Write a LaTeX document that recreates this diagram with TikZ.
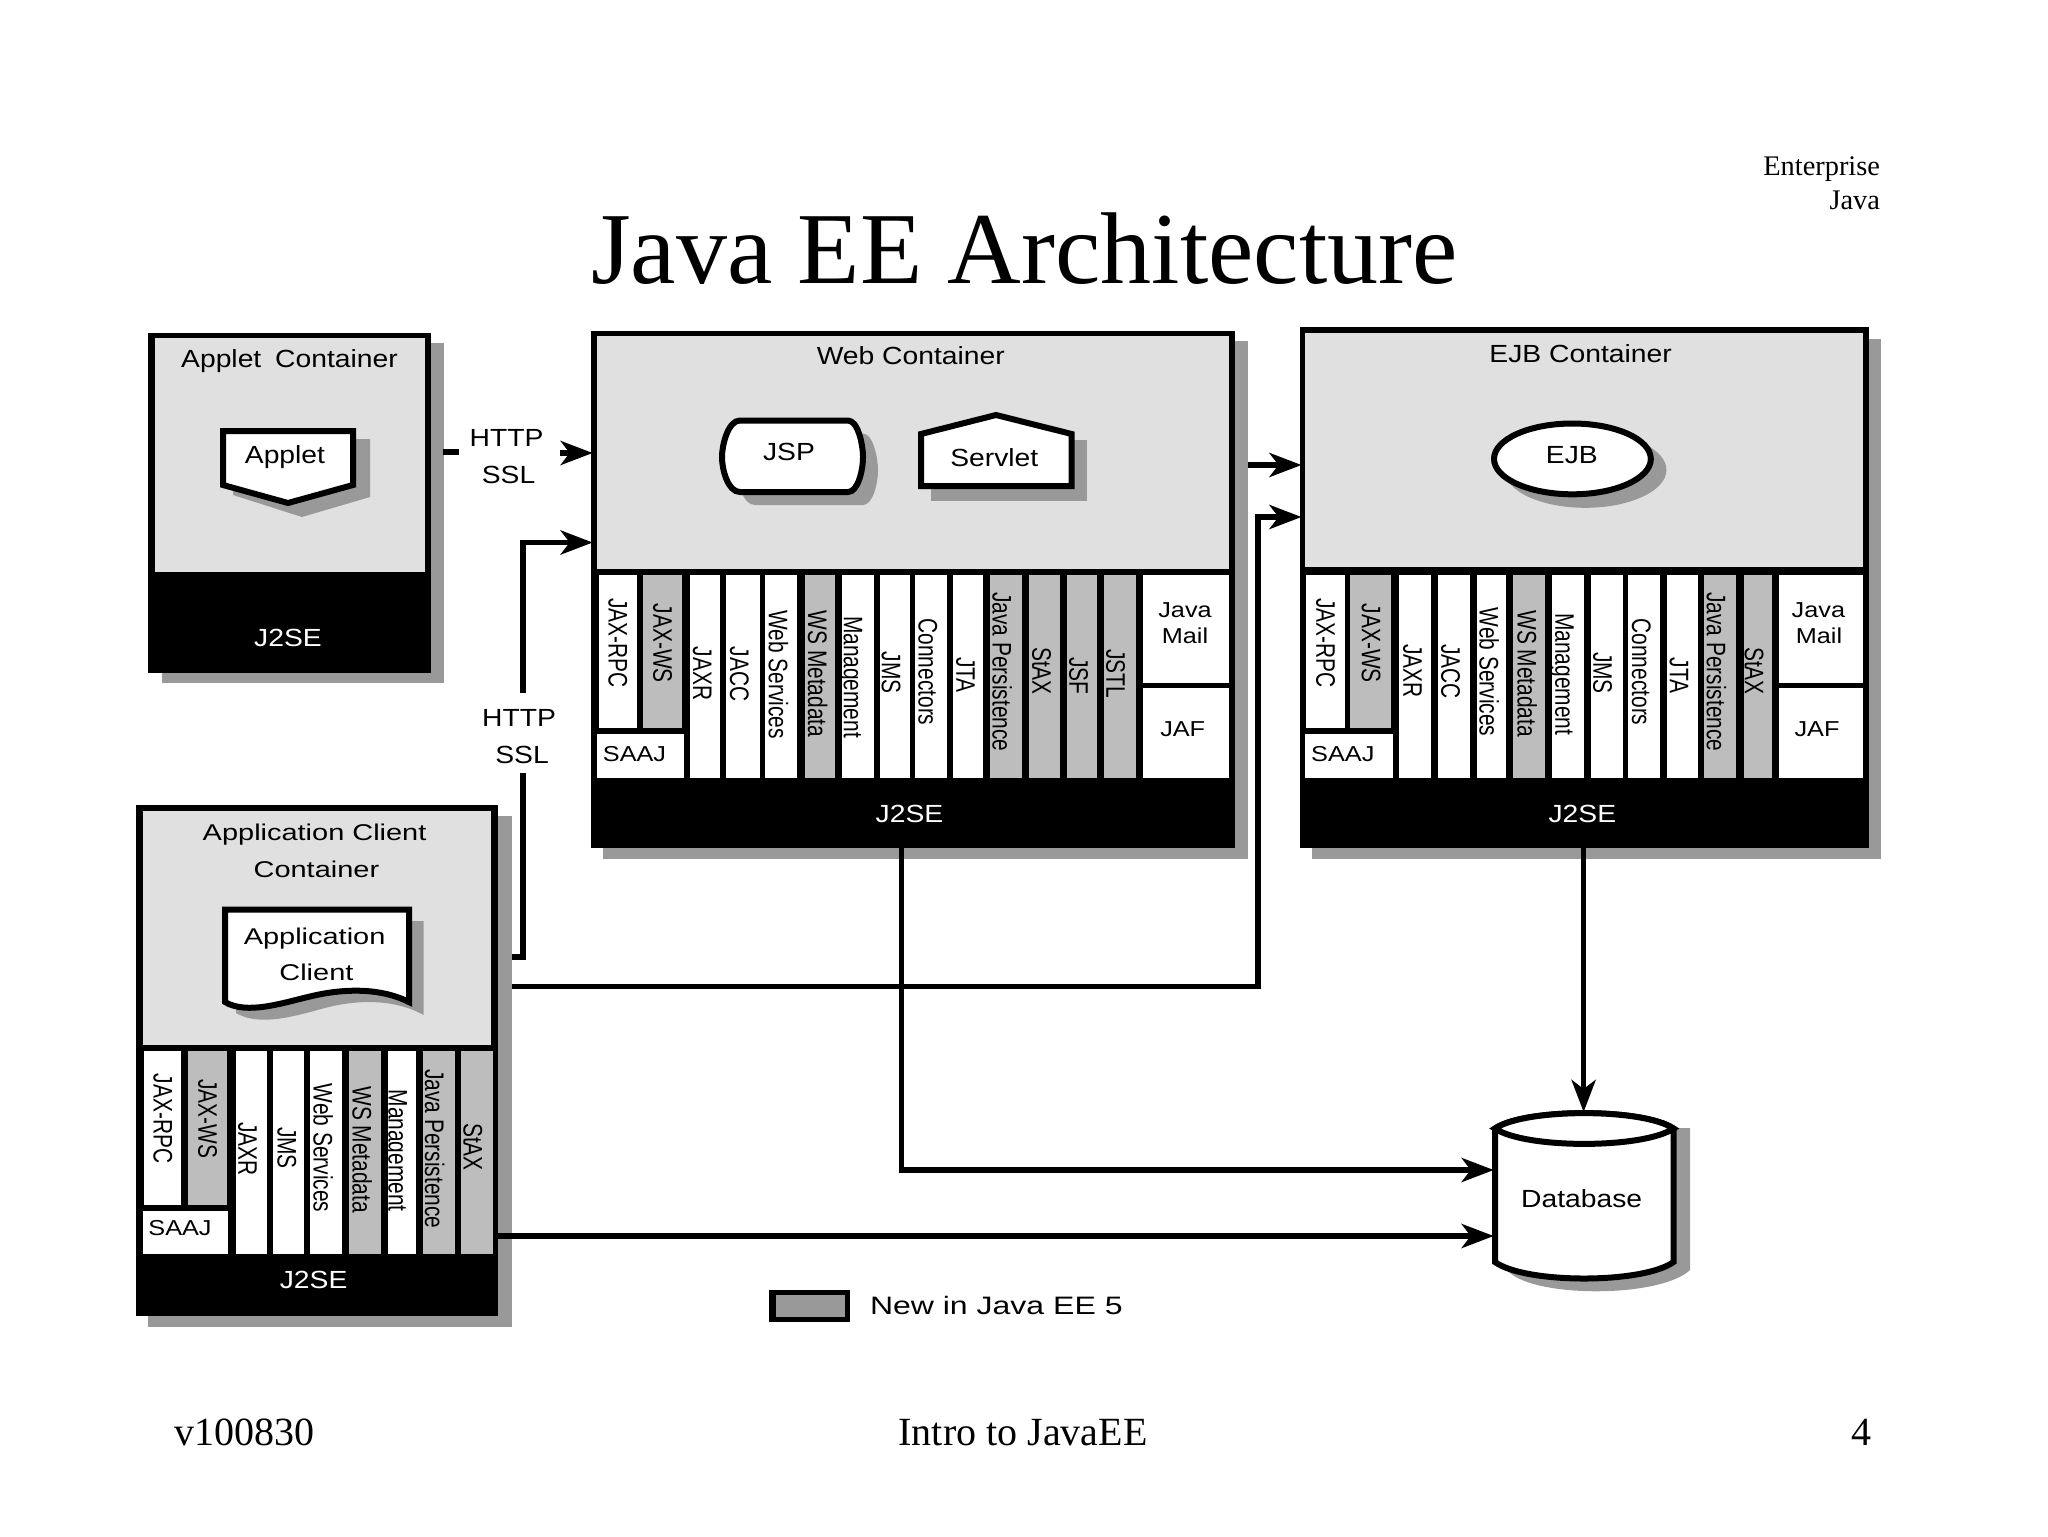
\documentclass[tikz,border=0pt]{standalone}
\usepackage{fontspec}
\usetikzlibrary{arrows.meta}
\setmainfont{Liberation Serif}
\newfontfamily\hfam[FakeStretch=1.14]{Liberation Sans}
\newfontfamily\cfam[FakeStretch=1.27]{Liberation Sans}
\newfontfamily\sfam[FakeStretch=1.17]{Liberation Sans}
\newfontfamily\vfam[FakeStretch=0.78]{Liberation Sans}
\definecolor{lightg}{HTML}{E0E0E0}
\definecolor{newg}{HTML}{BDBDBD}
\definecolor{shadowg}{HTML}{999999}
\tikzset{
  plain/.style={rectangle,inner sep=0pt,outer sep=0pt,draw=none},
  outerbox/.style={plain,fill=black},
  innerbox/.style={plain,fill=lightg},
  shadowbox/.style={plain,fill=shadowg},
  whitebox/.style={plain,fill=white},
  newbox/.style={plain,fill=newg},
  baselbl/.style={inner sep=0pt,outer sep=0pt,text height=0.72em,text depth=0pt},
  lbl/.style={baselbl,yshift=-0.7pt,font=\hfam\fontsize{12.4}{14}\selectfont},
  clbl/.style={baselbl,font=\cfam\fontsize{11.4}{14}\selectfont},
  slbl/.style={baselbl,yshift=-0.3pt,font=\sfam\fontsize{10.8}{13}\selectfont},
  wlbl/.style={lbl,text=white},
  vlbl/.style={baselbl,xshift=-0.6pt,rotate=-90,font=\vfam\fontsize{13.4}{15}\selectfont},
  shapeline/.style={draw=black,line width=3pt,fill=white,line join=miter},
  shadowshape/.style={draw=none,fill=shadowg},
  conn/.style={draw=black,line width=2.8pt,line join=miter},
  arrowconn/.style={conn,shorten >=-1pt,-{Stealth[length=16pt,width=12pt,inset=4.5pt]}},
  titletext/.style={inner sep=0pt,outer sep=0pt,anchor=base,font=\fontsize{51}{55}\selectfont},
  corner/.style={inner sep=0pt,outer sep=0pt,anchor=base east,font=\fontsize{14.2}{16}\selectfont},
  foot/.style={inner sep=0pt,outer sep=0pt,font=\fontsize{20}{22}\selectfont}
}
\newcommand{\bx}[6]{%
  \pgfmathsetmacro{\bw}{(#4-#2)*0.5}%
  \pgfmathsetmacro{\bh}{(#5-#3)*0.5}%
  \node[#6,minimum width=\bw pt,minimum height=\bh pt] (#1) at ({(#2+#4)/2},{(#3+#5)/2}) {};}
% name x1 y1 x2 y2 style text tx ty
\newcommand{\col}[9]{%
  \bx{#1}{#2}{#3}{#4}{#5}{#6}%
  \node[vlbl] (#1t) at (#8,#9) {#7};}
\begin{document}
\begin{tikzpicture}[x=0.5pt,y=-0.5pt]
\useasboundingbox (0,0) rectangle (2048,1536);
\fill[white] (0,0) rectangle (2048,1536);

% Titles
\node[titletext] (title) at (1024.3,283) {Java EE Architecture};
\node[corner] (ent) at (1880,175) {Enterprise};
\node[corner] (jav) at (1880,209) {Java};
\node[foot,anchor=base west] (ver) at (174,1445) {v100830};
\node[foot,anchor=base] (intro) at (1023,1445) {Intro to JavaEE};
\node[foot,anchor=base east] (pg) at (1871,1445) {4};

% Applet container
\bx{appshadow}{162}{343}{444}{683}{shadowbox}
\bx{appletbox}{148}{333}{431}{673}{outerbox}
\bx{appletin}{155}{338}{425}{572}{innerbox}
\node[lbl] (applettitle) at (289.5,359) {Applet\hspace{3pt} Container};
\node[wlbl] (appletj2se) at (288,638) {J2SE};
\fill[shadowg] (233,439) -- (370,439) -- (370,497) -- (302,517) -- (233,495) -- cycle;
\path[shapeline] (223,431) -- (353,431) -- (353,485) -- (288,503) -- (223,485) -- cycle;
\node[lbl] (applet) at (285,455) {Applet};

% Web container
\bx{webshadow}{603}{341}{1248}{859}{shadowbox}
\bx{webbox}{590.7}{330.7}{1235.4}{847.9}{outerbox}
\bx{webin}{597}{336}{1229}{569.3}{innerbox}
\node[lbl] (webtitle) at (910.8,355.7) {Web Container};
\node[wlbl] (webj2se) at (909.5,814) {J2SE};
\path[shadowshape] (755,433.5) -- (863,433.5) .. controls (873,433.5) and (878,458) .. (878,470) .. controls (878,483) and (873,505) .. (863,505) -- (755,505) .. controls (743,505) and (737,483) .. (737,470) .. controls (737,458) and (743,433.5) .. (755,433.5) -- cycle;
\path[shapeline] (740,420.5) -- (848,420.5) .. controls (858,420.5) and (863,445) .. (863,457) .. controls (863,470) and (858,492) .. (848,492) -- (740,492) .. controls (728,492) and (722,470) .. (722,457) .. controls (722,445) and (728,420.5) .. (740,420.5) -- cycle;
\node[lbl] (jsp) at (789,452) {JSP};
\fill[shadowg] (931,439.6) -- (1087,439.6) -- (1087,500.7) -- (931,500.7) -- cycle;
\path[shapeline] (921,434) -- (996,415) -- (1071.6,434) -- (1071.6,486) -- (921,486) -- cycle;
\node[lbl] (servlet) at (994.3,457.5) {Servlet};
\col{wa}{598.8}{575.4}{636.7}{728.2}{whitebox}{JAX-RPC}{617}{643.2}
\col{wb}{643.4}{575.4}{681.8}{728.2}{newbox}{JAX-WS}{661.7}{643.2}
\bx{wsaaj}{597}{734.3}{683.6}{777.9}{whitebox}
\node[slbl] (wsaajt) at (634.5,753.2) {SAAJ};
\col{wc}{690.3}{575.4}{719.7}{777.9}{whitebox}{JAXR}{701.4}{673.6}
\col{wd}{726.4}{575.4}{759.9}{777.9}{whitebox}{JACC}{738.5}{673.9}
\col{we}{765.3}{575.4}{797.4}{777.9}{whitebox}{Web Services}{777.3}{674.6}
\col{wf}{804.6}{575.4}{834.9}{777.9}{newbox}{WS Metadata}{816.6}{673.9}
\col{wg}{841.6}{575.4}{873.8}{777.9}{whitebox}{Management}{852.3}{677}
\col{wh}{880.4}{575.4}{909.9}{777.9}{whitebox}{JMS}{890.3}{672.5}
\col{wi}{915.3}{575.4}{947.4}{777.9}{whitebox}{Connectors}{926.9}{672}
\col{wj}{952.8}{575.4}{983.1}{777.9}{whitebox}{JTA}{964.8}{675}
\col{wk}{989.8}{575.4}{1022}{777.9}{newbox}{Java Persistence}{1001}{671.8}
\col{wl}{1029}{575.4}{1059.5}{777.9}{newbox}{StAX}{1040.7}{671}
\col{wm}{1066.6}{575.4}{1097}{777.9}{newbox}{JSF}{1077.8}{675.7}
\col{wn}{1104}{575.4}{1135.8}{777.9}{newbox}{JSTL}{1114.8}{673.6}
\bx{wmail}{1142.5}{575.4}{1229}{682.5}{whitebox}
\node[slbl] (wjava) at (1185,610) {Java};
\node[slbl] (wmailt) at (1185,636) {Mail};
\bx{wjaf}{1142.5}{687.9}{1229}{777.9}{whitebox}
\node[slbl] (wjaft) at (1182.7,729) {JAF};

% EJB container
\bx{ejbshadow}{1312}{338.6}{1881}{859}{shadowbox}
\bx{ejbbox}{1299.5}{327}{1869}{847.9}{outerbox}
\bx{ejbin}{1305}{332.5}{1862.6}{567}{innerbox}
\node[lbl] (ejbtitle) at (1580.6,354) {EJB Container};
\node[wlbl] (ejbj2se) at (1582.3,814) {J2SE};
\fill[shadowg] (1585.4,469.9) ellipse [x radius=81,y radius=37.9];
\path[shapeline] (1572.4,458.9) ellipse [x radius=78.4,y radius=35.4];
\node[lbl] (ejb) at (1571.8,455) {EJB};
\col{ea}{1306.2}{575.4}{1344.9}{728.2}{whitebox}{JAX-RPC}{1324.7}{643.2}
\col{eb}{1350.4}{575.4}{1390.8}{728.2}{newbox}{JAX-WS}{1370.2}{643.2}
\bx{esaaj}{1305}{734.3}{1392.5}{777.9}{whitebox}
\node[slbl] (esaajt) at (1342.8,753.2) {SAAJ};
\col{ec}{1399.2}{575.4}{1431.2}{777.9}{whitebox}{JAXR}{1411.8}{671}
\col{ed}{1438.4}{575.4}{1470.3}{777.9}{whitebox}{JACC}{1449.7}{671.4}
\col{ee}{1477}{575.4}{1506}{777.9}{whitebox}{Web Services}{1488}{672}
\col{ef}{1512.8}{575.4}{1544.8}{777.9}{newbox}{WS Metadata}{1525.9}{673.6}
\col{eg}{1551.6}{575.4}{1583.6}{777.9}{whitebox}{Management}{1563.8}{674.3}
\col{eh}{1590.7}{575.4}{1622.7}{777.9}{whitebox}{JMS}{1601.7}{672.9}
\col{ei}{1628.2}{575.4}{1660.2}{777.9}{whitebox}{Connectors}{1640.4}{672}
\col{ej}{1666.9}{575.4}{1697.6}{777.9}{whitebox}{JTA}{1678.3}{675.7}
\col{ek}{1704.3}{575.4}{1736.3}{777.9}{newbox}{Java Persistence}{1715.3}{671.8}
\col{el}{1743.5}{575.4}{1772}{777.9}{newbox}{StAX}{1753.2}{671}
\bx{email}{1779.3}{575.4}{1862.6}{682.5}{whitebox}
\node[slbl] (ejava) at (1818.4,610) {Java};
\node[slbl] (emailt) at (1819,636) {Mail};
\bx{ejaf}{1779.3}{687.9}{1862.6}{777.9}{whitebox}
\node[slbl] (ejaft) at (1817,729) {JAF};

% Application client container
\bx{clshadow}{148}{816}{512}{1326.8}{shadowbox}
\bx{clientbox}{136}{805.4}{497.5}{1316.4}{outerbox}
\bx{clientin}{142.5}{811.4}{491}{1045}{innerbox}
\node[clbl,yshift=-0.7pt] (cltitle1) at (314.6,832) {Application Client};
\node[clbl,yshift=-0.7pt] (cltitle2) at (316.4,869) {Container};
\node[wlbl] (clj2se) at (313.6,1280) {J2SE};
\path[shadowshape] (238,921) -- (423.6,921) -- (423.6,1015) .. controls (393,998) and (355,1000) .. (325,1008) .. controls (295,1016) and (260,1027) .. (236,1013) -- cycle;
\path[shapeline] (225,909.5) -- (409,909.5) -- (409,1002) .. controls (379,987) and (342,989) .. (312,996) .. controls (282,1003) and (247,1015) .. (225,1002) -- cycle;
\node[clbl,yshift=-0.7pt] (cldoc1) at (314.6,935.7) {Application};
\node[clbl,yshift=-0.7pt] (cldoc2) at (316.4,972) {Client};
\col{ca}{143.6}{1050.7}{181.4}{1204.6}{whitebox}{JAX-RPC}{162}{1118.6}
\col{cb}{187.9}{1050.7}{227.1}{1204.6}{newbox}{JAX-WS}{206.8}{1118.6}
\bx{csaaj}{142.5}{1210.7}{228.2}{1254.3}{whitebox}
\node[slbl] (csaajt) at (180,1228) {SAAJ};
\col{cc}{235.7}{1050.7}{267.1}{1254.3}{whitebox}{JAXR}{246.8}{1149}
\col{cd}{272.9}{1050.7}{303.6}{1254.3}{whitebox}{JMS}{286}{1148}
\col{ce}{310.4}{1050.7}{342.1}{1254.3}{whitebox}{Web Services}{322}{1148}
\col{cf}{348.9}{1050.7}{381}{1254.3}{newbox}{WS Metadata}{361}{1149.6}
\col{cg}{387.9}{1050.7}{415.7}{1254.3}{whitebox}{Management}{397}{1150.7}
\col{ch}{422.5}{1050.7}{454.6}{1254.3}{newbox}{Java Persistence}{433.6}{1149}
\col{ci}{461.4}{1050.7}{492.5}{1254.3}{newbox}{StAX}{472}{1147}

% Database
\path[shadowshape] (1509,1128) -- (1690,1128) -- (1690,1270) .. controls (1660,1298) and (1536,1298) .. (1509,1272) -- cycle;
\path[shapeline] (1495,1128.5) -- (1495,1262) .. controls (1525,1284) and (1643,1284) .. (1673.5,1262) -- (1673.5,1128.5) .. controls (1643,1108) and (1525,1108) .. (1495,1128.5) -- cycle;
\path[shapeline] (1495,1128.5) .. controls (1525,1108) and (1643,1108) .. (1673.5,1128.5) .. controls (1643,1149) and (1525,1149) .. (1495,1128.5) -- cycle;
\node[baselbl,minimum width=92.5pt,minimum height=86pt] (db) at (1584.2,1196) {};
\node[lbl] (dbt) at (1581.7,1199) {Database};

% Legend
\bx{legend}{769.3}{1290}{850}{1322}{outerbox}
\bx{legendin}{776}{1295}{845}{1316.7}{plain,fill=shadowg}
\node[clbl,anchor=west,yshift=-1.2pt,font=\cfam\fontsize{12.6}{14}\selectfont] (legendt) at (870,1305) {New in Java EE 5};

% Connector labels
\node[lbl] (http1) at (506.5,438) {HTTP};
\node[lbl] (ssl1) at (508.5,475) {SSL};
\node[lbl] (http2) at (519,718) {HTTP};
\node[lbl] (ssl2) at (522,755) {SSL};

% Connectors
\coordinate (a1) at (442.6,452);
\coordinate (a2) at (459,452);
\coordinate (a3) at (560,453);
\draw[conn] (a1) -- (a2);
\draw[arrowconn] (a3) -- (webbox.west |- a3);

\coordinate (b1) at (523,693);
\coordinate (b2) at (523,542.5);
\coordinate (b3) at (523,772.7);
\coordinate (b4) at (512,957);
\draw[arrowconn] (b1) -- (b2) -- (webbox.west |- b2);
\draw[conn] (b3) |- (b4);

\coordinate (c1) at (1248,465);
\draw[arrowconn] (c1) -- (ejbbox.west |- c1);
\coordinate (d1) at (512,986.4);
\coordinate (d2) at (1257.7,986.4);
\coordinate (d3) at (1257.7,517);
\draw[arrowconn] (d1) -- (d2) -- (d3) -- (ejbbox.west |- d3);

\coordinate (e1) at (901.4,847);
\coordinate (e2) at (901.4,1170);
\draw[arrowconn] (e1) -- (e2) -- (db.west |- e2);
\coordinate (f1) at (497.5,1236);
\draw[arrowconn] (f1) -- (db.west |- f1);
\coordinate (g1) at (1583.6,847);
\draw[arrowconn] (g1) -- (g1 |- db.north);
\end{tikzpicture}
\end{document}
